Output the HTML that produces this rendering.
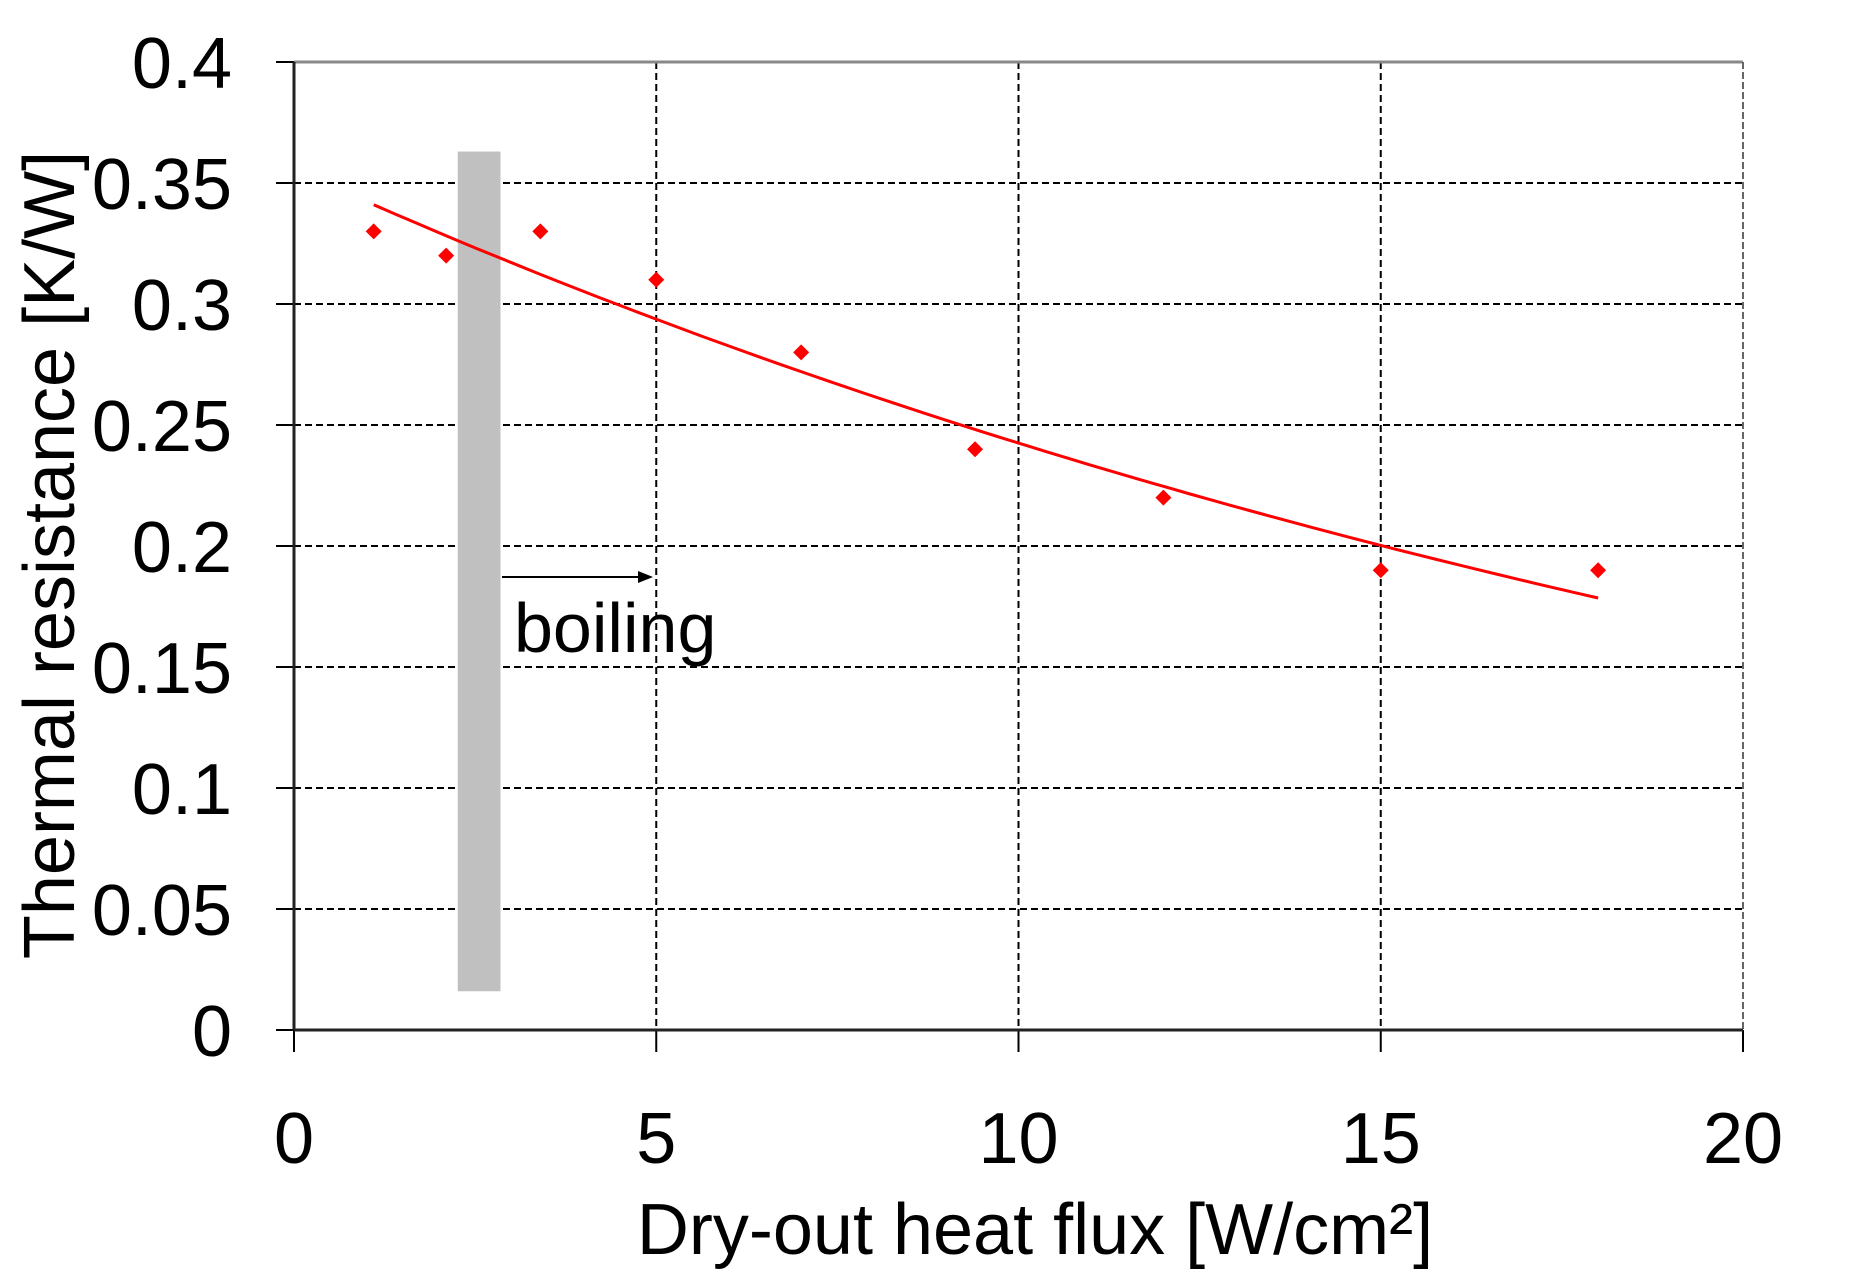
<!DOCTYPE html>
<html><head><meta charset="utf-8"><style>
html,body{margin:0;padding:0;background:#fff}
svg{display:block}
text{font-family:"Liberation Sans",Arial,sans-serif;fill:#000}
</style></head><body>
<svg id="chart" width="1866" height="1286" viewBox="0 0 1866 1286">
<g id="grid"></g>
<rect id="band" fill="#c0c0c0"></rect>
<g id="axes"></g>
<path id="trend" fill="none" stroke="#ff0000" stroke-width="3"></path>
<g id="points"></g>
<line x1="502" y1="577" x2="640" y2="577" stroke="#000" stroke-width="2"></line>
<polygon points="653,577 638,571 638,583" fill="#000"></polygon>
<text x="514" y="652" font-size="70">boiling</text>
<text x="1035" y="1254" font-size="72" text-anchor="middle">Dry-out heat flux [W/cm²]</text>
<text transform="translate(74,555) rotate(-90)" font-size="72" text-anchor="middle">Thermal resistance [K/W]</text>
</svg>
<script>
const xTicks=[0,5,10,15,20];
const yTicks=[0,0.05,0.1,0.15,0.2,0.25,0.3,0.35,0.4];
const yTickLabels=["0","0.05","0.1","0.15","0.2","0.25","0.3","0.35","0.4"];
const fluxValues=[1.1,2.1,3.4,5.0,7.0,9.4,12.0,15.0,18.0];
const resistanceValues=[0.33,0.32,0.33,0.31,0.28,0.24,0.22,0.19,0.19];
const trendRange=[1.1,18.0];
const trendCoeffA=0.3557, trendCoeffB=0.0383;
const bandRange=[2.26,2.85];
const bandTop=0.363, bandBottom=0.016;

const X0=294,X1=1743,Y0=1030,Y1=62;
const xs=v=>X0+(v-0)/(20-0)*(X1-X0);
const ys=v=>Y0-(v-0)/(0.4-0)*(Y0-Y1);
const NS="http://www.w3.org/2000/svg";
function mk(tag,parent,attrs){const e=document.createElementNS(NS,tag);for(const k in attrs)e.setAttribute(k,attrs[k]);parent.appendChild(e);return e;}
const grid=document.getElementById('grid'),axes=document.getElementById('axes');
yTicks.forEach((t,i)=>{
  const y=ys(t);
  if(t>0&&t<0.4){const g=mk('line',grid,{x1:X0,x2:X1,y1:y,y2:y,stroke:'#000','stroke-width':2,'stroke-dasharray':'7 4'});
  
  }
  const tk=mk('line',axes,{x1:X0-18,x2:X0,y1:y,y2:y,stroke:'#000','stroke-width':2});
  
  
  const tx=mk('text',axes,{x:232,y:y+26,'font-size':72,'text-anchor':'end'});
  tx.textContent=yTickLabels[i];
  
  
});
xTicks.forEach(t=>{
  const x=xs(t);
  if(t>0&&t<20){const g=mk('line',grid,{x1:x,x2:x,y1:Y1,y2:Y0,stroke:'#000','stroke-width':2,'stroke-dasharray':'7 4'});
  
  }
  const tk=mk('line',axes,{x1:x,x2:x,y1:Y0,y2:Y0+22,stroke:'#000','stroke-width':2});
  
  
  const tx=mk('text',axes,{x:x,y:1163,'font-size':72,'text-anchor':'middle'});
  tx.textContent=String(t);
  
  
});
const topBorder=mk('line',axes,{x1:X0,x2:X1,y1:Y1,y2:Y1,stroke:'#888','stroke-width':3});


const rightBorder=mk('line',axes,{x1:X1,x2:X1,y1:Y1,y2:Y0,stroke:'#666','stroke-width':2,'stroke-dasharray':'7 3'});


const yAxisLine=mk('line',axes,{x1:X0,x2:X0,y1:Y1,y2:Y0,stroke:'#222','stroke-width':3});


const xAxisLine=mk('line',axes,{x1:X0,x2:X1,y1:Y0,y2:Y0,stroke:'#222','stroke-width':3});


const band=document.getElementById('band');
band.setAttribute('x',xs(bandRange[0]));band.setAttribute('width',xs(bandRange[1])-xs(bandRange[0]));
band.setAttribute('y',ys(bandTop));band.setAttribute('height',ys(bandBottom)-ys(bandTop));
let d='';
for(let i=0;i<=60;i++){const x=trendRange[0]+(trendRange[1]-trendRange[0])*i/60;const y=trendCoeffA*Math.exp(-trendCoeffB*x);d+=(i?'L':'M')+xs(x).toFixed(1)+','+ys(y).toFixed(1);}
document.getElementById('trend').setAttribute('d',d);
const pts=document.getElementById('points');
fluxValues.forEach((f,i)=>{
  const cx=xs(f),cy=ys(resistanceValues[i]),r=8;
  const p=mk('polygon',pts,{points:`${cx},${cy-r} ${cx+r},${cy} ${cx},${cy+r} ${cx-r},${cy}`,fill:'#ff0000'});
  
  
});
</script>
</body></html>
